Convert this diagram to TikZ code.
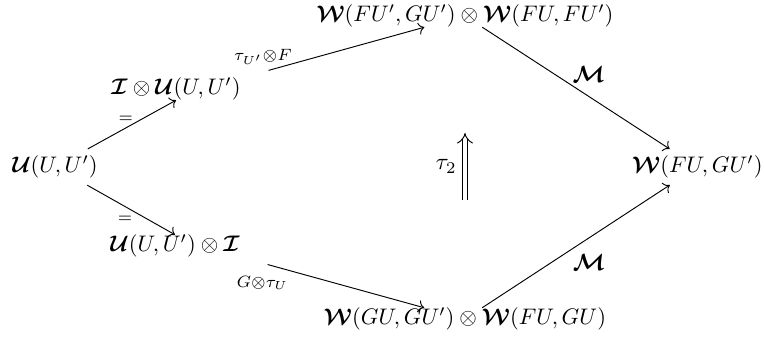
\documentclass[tikz,border=0pt]{standalone}
\usepackage{amsmath, amssymb}
\usepackage{tikz}
\usetikzlibrary{calc, positioning, arrows.meta}

\newcommand{\bcal}[1]{\boldsymbol{\mathcal{#1}}}

\begin{document}
\begin{tikzpicture}[
  % entries, maps and their labels
  obj/.style={inner sep=0pt, outer sep=0pt, scale=0.96},
  map/.style={->},
  lab/.style={inner sep=2pt}
]
  \useasboundingbox (0,0) rectangle (11.46,5.085);

  % Entries of the diagram
  \node[obj] (uu)  at (0.825,2.58)  {$\bcal{U}(U,U')$};
  \node[obj] (iu)  at (2.64,3.75)   {$\bcal{I}\otimes\bcal{U}(U,U')$};
  \node[obj] (ui)  at (2.625,1.395) {$\bcal{U}(U,U')\otimes\bcal{I}$};
  \node[obj] (top) at (6.975,4.845) {$\bcal{W}(FU',GU')\otimes\bcal{W}(FU,FU')$};
  \node[obj] (bot) at (6.975,0.30)  {$\bcal{W}(GU,GU')\otimes\bcal{W}(FU,GU)$};
  \node[obj, inner sep=3pt] (rt) at (10.46,2.58) {$\bcal{W}(FU,GU')$};

  % 2-cell in the middle
  \coordinate (t2s) at (6.975,2.085);
  \coordinate (t2e) at (6.975,3.09);

  % Left half
  \draw[map, shorten <=6pt] (uu) -- (iu.south) node[midway, above, lab] {$\scriptstyle =$};
  \draw[map, shorten <=6pt] (uu) -- (ui.north) node[midway, below=2pt, lab] {$\scriptstyle =$};
  \draw[map, shorten <=41pt] ([yshift=-3pt]iu.center) -- (top)
    node[pos=0.35, above=1pt, lab] {$\scriptstyle\tau_{U'}\otimes F$};
  \draw[map, shorten <=41pt] ([yshift=3pt]ui.center) -- (bot)
    node[pos=0.35, below=3.5pt, lab] {$\scriptstyle G\otimes\tau_U$};

  % Right half
  \draw[map] (top) -- (rt) node[midway, above, xshift=5.5pt, yshift=-1pt] {$\bcal{M}$};
  \draw[map] (bot) -- (rt) node[midway, below, xshift=5.5pt] {$\bcal{M}$};

  \draw[-Implies, double, double distance=2pt] (t2s) -- (t2e) node[midway, left] {$\tau_2$};
\end{tikzpicture}
\end{document}
